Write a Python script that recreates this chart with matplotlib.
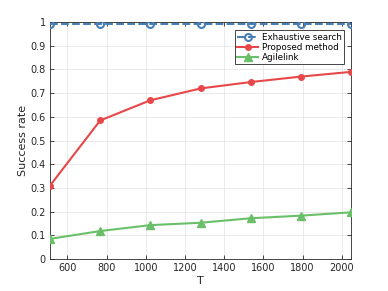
import matplotlib
matplotlib.use("Agg")
import matplotlib.pyplot as plt

# data
T = [512, 768, 1024, 1280, 1536, 1792, 2048]
exhaustive = [0.99, 0.99, 0.99, 0.99, 0.99, 0.99, 0.99]
proposed = [0.31, 0.585, 0.67, 0.72, 0.747, 0.77, 0.79]
agilelink = [0.085, 0.118, 0.143, 0.153, 0.172, 0.183, 0.197]

fig = plt.figure(figsize=(3.88, 2.91), dpi=100)
ax = fig.add_axes([0.129, 0.110, 0.776, 0.814])

ax.plot(T, exhaustive, '--o', color='#4a7fb5', lw=1.5, ms=5,
        mfc='none', mew=1.5, label='Exhaustive search', zorder=3)
ax.plot(T, proposed, '-o', color='#e8474a', lw=1.5, ms=4,
        label='Proposed method', zorder=3)
ax.plot(T, agilelink, '-^', color='#6abf69', lw=1.5, ms=6,
        label='Agilelink', zorder=3)

ax.set_xlim(512, 2048)
ax.set_ylim(0, 1)
ax.set_xticks([600, 800, 1000, 1200, 1400, 1600, 1800, 2000])
ax.set_yticks([0, 0.1, 0.2, 0.3, 0.4, 0.5, 0.6, 0.7, 0.8, 0.9, 1])
ax.set_yticklabels(['0', '0.1', '0.2', '0.3', '0.4', '0.5', '0.6', '0.7', '0.8', '0.9', '1'])
ax.tick_params(direction='in', top=True, right=True, labelsize=7,
               length=3, width=0.6, colors='#262626', pad=3)
ax.grid(True, color='#e6e6e6', lw=0.6)
for s in ax.spines.values():
    s.set_color('#262626')
    s.set_linewidth(0.6)

ax.set_xlabel('T', fontsize=8, color='#262626', labelpad=2)
ax.set_ylabel('Success rate', fontsize=8, color='#262626', labelpad=2)

leg = ax.legend(loc='upper right', fontsize=6.3, fancybox=False, framealpha=1,
                edgecolor='#262626', borderpad=0.25, labelspacing=0.15,
                handlelength=2.4, handletextpad=0.4,
                bbox_to_anchor=(0.975, 0.965), borderaxespad=0.0)
leg.get_frame().set_linewidth(0.6)

fig.savefig('out.png', dpi=100)
